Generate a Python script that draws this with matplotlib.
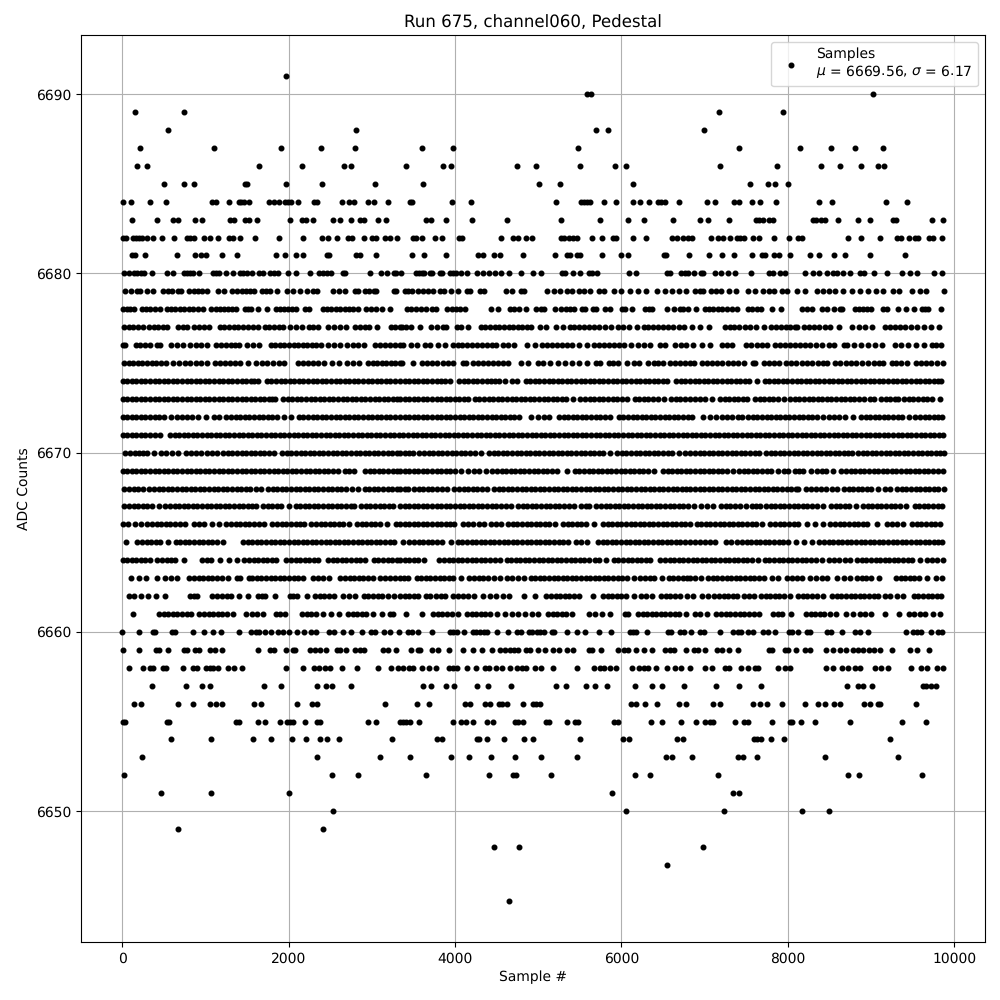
"""
plot.py
-------
Pedestal samples for one ADC channel. Sample numbers are read off the picture, row by row.
"""

import matplotlib
matplotlib.use("Agg")
import matplotlib.pyplot as plt

plt.rcParams["text.hinting"] = "none"

# sample numbers at each ADC level
s6691 = [1966]
s6690 = [5584, 5632, 9020]
s6689 = [154, 742, 7172, 7940]
s6688 = [550, 2806, 5692, 5836, 6992]
s6687 = [214, 1102, 1906, 2386, 2794, 3604, 3976, 5476, 7412, 8144, 8516, 8804, 9140]
s6686 = [178, 298, 1642, 2158, 2662, 2750, 3412, 3856, 3952, 4744, 4972, 5500, 5920, 6052, 7184, 7868, 8396, 8624, 8876, 9080, 9152]
s6685 = [502, 742, 862, 1474, 1506, 1966, 2398, 3034, 3616, 5008, 5260, 6136, 7544, 7760, 7844, 8000]
s6684 = [10, 106, 334, 526, 1078, 1126, 1282, 1402, 1434, 1466, 1522, 1762, 1822, 1882, 1954, 1990, 2026, 2110, 2302, 2338, 2638, 2722, 2782, 2950, 3022, 3190,
         3460, 3484, 3964, 4192, 5212, 5512, 5548, 5584, 5620, 5788, 5932, 6136, 6220, 6328, 6436, 6472, 6520, 6688,
         7028, 7124, 7352, 7412, 7568, 7664, 7856, 8372, 8528, 9176, 9428]
s6683 = [118, 418, 610, 670, 874, 958, 1294, 1342, 1474, 1522, 1618, 2014, 2158, 2206, 2290, 2530, 2614, 2746, 2854, 2902, 3070, 3166,
         3652, 3712, 3892, 4204, 4624, 5272, 5740, 6076, 6268, 6616,
         6944, 7040, 7292, 7616, 7652, 7700, 7772, 7820, 8300, 8336, 8396, 8444, 8600, 8840, 8984, 9260, 9296, 9728, 9860]
s6682 = [10, 46, 130, 166, 202, 238, 298, 370, 482, 622, 778, 814, 862, 982, 1054, 1150, 1282, 1330, 1414, 1594, 1882, 2170, 2398, 2470, 2578, 2710, 2758, 2902, 2998, 3046, 3154, 3214, 3298,
         3496, 3532, 3604, 3760, 3844, 4048, 4084, 4552, 4696, 4756, 4852, 4924, 5272, 5308, 5368, 5416, 5464, 5644, 5764, 5896, 5932, 6136, 6292, 6604, 6664, 6736, 6796,
         6848, 7076, 7160, 7220, 7304, 7388, 7424, 7472, 7580, 7652, 7832, 8012, 8120, 8168, 8720, 8876, 9104, 9308, 9356, 9452, 9524, 9560, 9692, 9740, 9848]
s6681 = [118, 150, 274, 658, 874, 946, 1006, 1198, 1378, 1846, 1954, 2086, 2170, 2458, 2482, 2806, 2854, 3046,
         3484, 3628, 3892, 4276, 4336, 4468, 4540, 4816, 5200, 5344, 5380, 5464, 5500, 5764, 5992, 6076, 6508, 6532, 6808,
         7052, 7208, 7352, 7568, 7688, 7724, 7832, 7892, 8024, 8264, 8372, 8552, 8684, 8984, 9404]
s6680 = [22, 82, 142, 178, 226, 262, 358, 538, 610, 742, 778, 814, 850, 922, 1090, 1126, 1162, 1246, 1330, 1414, 1450, 1498, 1558, 1642, 1690, 1774, 1822, 1870, 1990, 2086, 2254, 2362, 2410, 2458, 2506, 2650, 2674, 2974, 3106, 3178, 3262, 3286,
         3352, 3532, 3568, 3604, 3628, 3700, 3724, 3820, 3844, 3940, 3976, 4012, 4072, 4144, 4264, 4336, 4408, 4480, 4552, 4648, 4792, 4936, 5032, 5284, 5320, 5416, 5500, 5608, 5644, 5704, 6088, 6172, 6544, 6580, 6712, 6760, 6796,
         6872, 6956, 6980, 7124, 7196, 7280, 7364, 7556, 7772, 7820, 7904, 7964, 8204, 8300, 8372, 8468, 8540, 8588, 8660, 8744, 8864, 8912, 9032, 9188, 9368, 9464, 9548, 9752, 9848]
s6679 = [34, 106, 178, 214, 298, 370, 490, 550, 598, 670, 706, 802, 862, 910, 958, 1018, 1150, 1222, 1318, 1378, 1438, 1486, 1534, 1582, 1678, 1726, 1774, 1858, 1978, 2050, 2134, 2218, 2290, 2338, 2530, 2602, 2674, 2794, 2830, 2914, 2962, 3022, 3046, 3262, 3286,
         3400, 3436, 3484, 3556, 3616, 3676, 3736, 3820, 3868, 3952, 4036, 4144, 4180, 4300, 4348, 4612, 4684, 4792, 4828, 5104, 5188, 5260, 5344, 5404, 5488, 5548, 5620, 5728, 5788, 5908, 5992, 6100, 6196, 6292, 6424, 6520, 6604, 6688, 6772,
         6884, 6944, 6980, 7076, 7136, 7196, 7292, 7376, 7520, 7604, 7700, 7772, 7832, 7928, 7988, 8108, 8204, 8348, 8420, 8492, 8564, 8660, 8768, 8864, 8960, 9056, 9140, 9260, 9332, 9488, 9584, 9656, 9872]
s6678 = [14, 60, 100, 142, 234, 290, 340, 395, 450, 534, 590, 640, 690, 745, 800, 855, 910, 970, 1074, 1125, 1175, 1225, 1275, 1325, 1370, 1474, 1510, 1550, 1630, 1738, 1846, 1895, 1945, 1995, 2045, 2094, 2194, 2242, 2414, 2465, 2515, 2570, 2620, 2675, 2725, 2780, 2830, 2926, 2990, 3054, 3118, 3214,
         3428, 3475, 3530, 3590, 3648, 3724, 3772, 3908, 3960, 4010, 4065, 4116, 4436, 4516, 4660, 4710, 4764, 4852, 4980, 5030, 5076, 5208, 5280, 5330, 5380, 5428, 5528, 5568, 5660, 5696, 5804, 5860, 6008, 6048, 6124, 6288, 6330, 6364, 6544, 6628, 6708, 6740, 6796,
         6900, 7004, 7055, 7105, 7160, 7215, 7270, 7330, 7388, 7524, 7575, 7625, 7676, 7812, 7920, 8172, 8230, 8288, 8412, 8476, 8560, 8632, 8656, 8804, 8855, 8905, 8950, 8996, 9140, 9188, 9320, 9420, 9512, 9612, 9650, 9688, 9840]
s6677 = [26, 80, 135, 190, 250, 326, 380, 435, 490, 542, 674, 730, 782, 866, 925, 985, 1042, 1174, 1230, 1285, 1340, 1395, 1450, 1510, 1570, 1630, 1714, 1770, 1825, 1880, 1930, 2014, 2085, 2158, 2246, 2300, 2358, 2474, 2550, 2614, 2690, 2802, 2860, 2915, 2970, 3062, 3226, 3285, 3340,
         3360, 3410, 3470, 3580, 3712, 3780, 3856, 3896, 4020, 4068, 4156, 4308, 4365, 4420, 4480, 4535, 4590, 4645, 4700, 4755, 4810, 4860, 4908, 5020, 5096, 5212, 5296, 5380, 5435, 5490, 5550, 5610, 5670, 5728, 5800, 5880, 5956, 6020, 6088, 6188, 6268, 6325, 6385, 6445, 6505, 6565, 6625, 6690, 6756,
         6852, 6948, 7052, 7244, 7300, 7355, 7410, 7480, 7540, 7620, 7716, 7804, 7860, 7920, 7975, 8030, 8085, 8116, 8200, 8260, 8320, 8380, 8445, 8508, 8620, 8772, 8850, 8928, 9008, 9164, 9225, 9285, 9345, 9405, 9480, 9548, 9640, 9720, 9812]
s6676 = [6, 38, 162, 220, 275, 330, 414, 450, 582, 655, 730, 822, 885, 950, 1018, 1134, 1190, 1250, 1310, 1355, 1402, 1502, 1575, 1650, 1786, 1840, 1895, 1950, 2005, 2060, 2115, 2170, 2225, 2280, 2335, 2390, 2474, 2545, 2618, 2706, 2770, 2835, 2902, 3042, 3100, 3160, 3220, 3280, 3340,
         3376, 3472, 3544, 3636, 3700, 3796, 3876, 3980, 4035, 4090, 4145, 4200, 4260, 4320, 4380, 4440, 4496, 4572, 4636, 4708, 4868, 4968, 5052, 5110, 5165, 5225, 5285, 5345, 5404, 5492, 5584, 5672, 5730, 5790, 5850, 5910, 5975, 6036, 6120, 6195, 6270, 6344, 6468, 6524, 6640, 6712, 6776,
         6860, 6972, 7060, 7212, 7270, 7328, 7492, 7560, 7625, 7690, 7756, 7852, 7910, 7970, 8030, 8090, 8150, 8210, 8268, 8344, 8415, 8490, 8560, 8680, 8712, 8792, 8875, 8960, 9048, 9128, 9292, 9356, 9444, 9540, 9636, 9732, 9785, 9840]
s6675 = [26, 80, 135, 190, 245, 300, 355, 410, 465, 522, 614, 680, 750, 815, 885, 950, 1022, 1114, 1175, 1235, 1295, 1355, 1420, 1510, 1614, 1680, 1745, 1810, 1880, 1950, 2114, 2175, 2235, 2300, 2360, 2422, 2522, 2610, 2702, 2775, 2850, 2954, 3010, 3065, 3120, 3175, 3230, 3285, 3340,
         3360, 3496, 3600, 3660, 3725, 3790, 3855, 3915, 3976, 4092, 4128, 4220, 4280, 4340, 4400, 4460, 4520, 4576, 4640, 4788, 4876, 5000, 5056, 5148, 5236, 5320, 5408, 5495, 5584, 5700, 5748, 5852, 5905, 5956, 6068, 6148, 6208, 6316, 6392, 6445, 6496, 6588, 6650, 6710, 6770, 6828,
         6868, 6972, 7030, 7090, 7150, 7215, 7280, 7345, 7405, 7468, 7580, 7600, 7712, 7775, 7840, 7900, 7980, 8040, 8100, 8165, 8230, 8295, 8360, 8420, 8476, 8564, 8630, 8695, 8760, 8825, 8888, 8960, 9032, 9090, 9148, 9252, 9305, 9356, 9436, 9540, 9600, 9660, 9725, 9790, 9860]
s6674 = [6, 60, 115, 170, 225, 280, 335, 390, 445, 500, 555, 610, 665, 720, 775, 830, 885, 940, 995, 1050, 1105, 1160, 1215, 1270, 1325, 1380, 1435, 1490, 1545, 1590, 1638, 1742, 1795, 1850, 1905, 1960, 2015, 2070, 2125, 2180, 2235, 2290, 2345, 2400, 2455, 2510, 2565, 2620, 2675, 2730, 2785, 2840, 2895, 2950, 3005, 3060, 3115, 3170, 3225, 3280, 3340,
         3395, 3450, 3505, 3560, 3615, 3670, 3725, 3780, 3835, 3885, 3940, 4052, 4105, 4160, 4215, 4270, 4325, 4380, 4435, 4480, 4524, 4596, 4680, 4744, 4852, 4905, 4960, 5015, 5070, 5125, 5180, 5235, 5290, 5345, 5400, 5455, 5510, 5565, 5620, 5675, 5730, 5785, 5840, 5895, 5950, 6005, 6060, 6115, 6170, 6225, 6280, 6335, 6390, 6445, 6500, 6548, 6660, 6715, 6770, 6828,
         6880, 6935, 6990, 7045, 7100, 7155, 7210, 7265, 7320, 7375, 7430, 7480, 7528, 7624, 7720, 7775, 7830, 7885, 7940, 7995, 8050, 8105, 8160, 8215, 8270, 8325, 8380, 8435, 8490, 8545, 8600, 8655, 8710, 8765, 8820, 8875, 8930, 8985, 9040, 9095, 9150, 9205, 9260, 9315, 9370, 9425, 9480, 9535, 9590, 9645, 9700, 9755, 9800, 9836]
s6673 = [6, 60, 115, 170, 225, 280, 335, 390, 445, 500, 555, 610, 665, 720, 775, 830, 885, 940, 995, 1050, 1105, 1160, 1215, 1270, 1325, 1380, 1435, 1490, 1545, 1600, 1655, 1710, 1765, 1805, 1842, 1934, 1990, 2045, 2100, 2155, 2210, 2265, 2320, 2375, 2430, 2485, 2540, 2595, 2650, 2705, 2760, 2815, 2870, 2925, 2980, 3035, 3090, 3145, 3200, 3255, 3300, 3340,
         3395, 3450, 3505, 3560, 3615, 3670, 3725, 3780, 3835, 3890, 3945, 4000, 4050, 4105, 4156, 4240, 4295, 4350, 4405, 4460, 4515, 4570, 4625, 4680, 4735, 4790, 4845, 4900, 4955, 5010, 5065, 5120, 5175, 5230, 5285, 5340, 5416, 5508, 5565, 5620, 5675, 5730, 5785, 5840, 5895, 5950, 6005, 6068, 6160, 6215, 6270, 6325, 6380, 6435, 6516, 6600, 6655, 6710, 6765, 6828,
         6885, 6940, 7000, 7092, 7184, 7240, 7295, 7350, 7405, 7460, 7508, 7604, 7660, 7715, 7770, 7825, 7880, 7956, 8032, 8085, 8140, 8195, 8250, 8305, 8360, 8415, 8470, 8525, 8580, 8635, 8690, 8745, 8800, 8855, 8910, 8988, 9040, 9120, 9175, 9230, 9285, 9320, 9400, 9455, 9510, 9565, 9620, 9675, 9728, 9832]
s6672 = [6, 60, 115, 170, 225, 280, 335, 390, 445, 500, 582, 662, 720, 780, 845, 910, 1014, 1106, 1170, 1254, 1310, 1365, 1420, 1475, 1530, 1585, 1640, 1695, 1750, 1805, 1860, 1942, 2026, 2126, 2180, 2235, 2290, 2345, 2400, 2455, 2510, 2565, 2620, 2675, 2730, 2785, 2840, 2895, 2950, 3005, 3060, 3115, 3170, 3225, 3280, 3340,
         3395, 3450, 3505, 3560, 3615, 3670, 3725, 3780, 3835, 3890, 3945, 4000, 4055, 4110, 4165, 4220, 4275, 4330, 4385, 4440, 4495, 4550, 4605, 4660, 4715, 4764, 4912, 5004, 5070, 5136, 5252, 5305, 5360, 5415, 5470, 5525, 5580, 5635, 5690, 5745, 5800, 5868, 5972, 6025, 6080, 6135, 6190, 6245, 6300, 6355, 6410, 6465, 6520, 6575, 6630, 6685, 6740, 6795, 6848,
         6984, 7060, 7136, 7212, 7270, 7328, 7404, 7448, 7524, 7580, 7635, 7690, 7745, 7800, 7855, 7910, 7965, 8020, 8075, 8130, 8185, 8240, 8295, 8356, 8424, 8490, 8555, 8620, 8688, 8780, 8880, 8935, 8990, 9045, 9100, 9155, 9210, 9265, 9320, 9375, 9456, 9532, 9590, 9645, 9700, 9755, 9805, 9848]
s6671 = [6, 60, 115, 170, 225, 280, 335, 390, 458, 574, 630, 685, 740, 795, 850, 905, 960, 1015, 1070, 1125, 1180, 1235, 1290, 1345, 1400, 1455, 1510, 1565, 1620, 1675, 1730, 1785, 1840, 1895, 1950, 2005, 2060, 2115, 2170, 2225, 2280, 2335, 2390, 2445, 2500, 2555, 2610, 2665, 2720, 2775, 2830, 2885, 2940, 2995, 3050, 3105, 3160, 3215, 3270, 3325,
         3380, 3435, 3490, 3545, 3600, 3655, 3710, 3765, 3820, 3875, 3930, 3985, 4040, 4095, 4150, 4205, 4260, 4315, 4370, 4425, 4480, 4535, 4590, 4645, 4700, 4755, 4810, 4865, 4920, 4975, 5030, 5085, 5140, 5195, 5250, 5305, 5360, 5415, 5470, 5525, 5580, 5635, 5690, 5745, 5800, 5855, 5910, 5965, 6020, 6075, 6130, 6185, 6240, 6295, 6350, 6405, 6460, 6515, 6570, 6625, 6680, 6735, 6790,
         6845, 6900, 6955, 7010, 7065, 7120, 7175, 7230, 7285, 7340, 7395, 7450, 7505, 7560, 7615, 7670, 7725, 7780, 7835, 7890, 7945, 8000, 8055, 8110, 8165, 8220, 8275, 8330, 8385, 8440, 8495, 8550, 8605, 8660, 8715, 8770, 8825, 8880, 8935, 8990, 9045, 9100, 9155, 9210, 9265, 9320, 9375, 9430, 9485, 9540, 9595, 9650, 9705, 9760, 9815, 9862]
s6670 = [38, 95, 150, 205, 255, 302, 382, 462, 530, 600, 670, 766, 825, 885, 950, 1015, 1080, 1138, 1214, 1270, 1325, 1380, 1435, 1490, 1545, 1600, 1655, 1710, 1770, 1830, 1922, 1980, 2035, 2090, 2145, 2200, 2255, 2310, 2365, 2420, 2475, 2530, 2585, 2640, 2695, 2750, 2805, 2860, 2915, 2970, 3025, 3080, 3135, 3190, 3245, 3300, 3340,
         3395, 3450, 3500, 3572, 3630, 3685, 3740, 3795, 3850, 3905, 3960, 4015, 4070, 4125, 4180, 4235, 4316, 4412, 4465, 4520, 4575, 4630, 4685, 4740, 4795, 4850, 4905, 4960, 5015, 5070, 5125, 5180, 5235, 5290, 5345, 5400, 5455, 5510, 5565, 5620, 5675, 5730, 5785, 5868, 5948, 6005, 6060, 6115, 6170, 6225, 6280, 6335, 6390, 6445, 6500, 6555, 6610, 6688, 6768, 6828,
         6885, 6940, 6995, 7050, 7105, 7160, 7215, 7270, 7325, 7380, 7435, 7490, 7545, 7600, 7648, 7740, 7795, 7850, 7905, 7960, 8015, 8070, 8125, 8180, 8235, 8290, 8345, 8400, 8455, 8510, 8565, 8620, 8675, 8725, 8768, 8844, 8900, 8955, 9010, 9065, 9120, 9175, 9230, 9285, 9340, 9395, 9450, 9505, 9560, 9615, 9670, 9725, 9780, 9830, 9876]
s6669 = [6, 60, 115, 170, 225, 280, 335, 390, 445, 500, 555, 610, 665, 720, 775, 830, 885, 940, 995, 1050, 1105, 1160, 1215, 1270, 1325, 1380, 1435, 1490, 1545, 1600, 1655, 1710, 1765, 1820, 1875, 1930, 1985, 2040, 2095, 2150, 2205, 2260, 2315, 2370, 2425, 2480, 2535, 2590, 2674, 2730, 2782, 2922, 2975, 3030, 3085, 3140, 3195, 3250, 3300, 3340,
         3395, 3450, 3505, 3560, 3615, 3670, 3725, 3780, 3835, 3890, 3945, 4000, 4076, 4160, 4225, 4288, 4368, 4448, 4505, 4560, 4615, 4670, 4725, 4780, 4835, 4890, 4945, 5000, 5055, 5110, 5165, 5224, 5352, 5440, 5495, 5550, 5605, 5660, 5715, 5770, 5825, 5880, 5935, 5990, 6045, 6100, 6155, 6210, 6265, 6320, 6388, 6500, 6555, 6610, 6665, 6720, 6775, 6828,
         6885, 6940, 6995, 7050, 7105, 7160, 7215, 7270, 7336, 7412, 7470, 7525, 7580, 7635, 7690, 7745, 7800, 7880, 7960, 8008, 8084, 8135, 8188, 8284, 8345, 8405, 8465, 8548, 8644, 8700, 8755, 8810, 8865, 8920, 8975, 9030, 9085, 9140, 9195, 9250, 9305, 9360, 9415, 9470, 9525, 9580, 9635, 9690, 9745, 9800, 9868]
s6668 = [22, 80, 140, 195, 250, 326, 385, 440, 495, 550, 605, 660, 715, 770, 825, 880, 935, 990, 1045, 1100, 1155, 1210, 1265, 1320, 1375, 1430, 1485, 1540, 1610, 1670, 1754, 1810, 1865, 1920, 1975, 2030, 2085, 2140, 2195, 2250, 2305, 2360, 2415, 2470, 2525, 2580, 2635, 2690, 2766, 2830, 2914, 2970, 3025, 3080, 3135, 3190, 3245, 3300, 3340,
         3395, 3440, 3508, 3565, 3620, 3675, 3730, 3785, 3840, 3908, 3992, 4050, 4105, 4160, 4215, 4270, 4330, 4388, 4468, 4525, 4580, 4635, 4690, 4745, 4800, 4855, 4910, 4965, 5020, 5075, 5130, 5185, 5240, 5295, 5350, 5405, 5460, 5515, 5570, 5625, 5680, 5735, 5790, 5845, 5900, 5955, 6010, 6065, 6120, 6175, 6230, 6285, 6340, 6395, 6450, 6505, 6560, 6615, 6670, 6725, 6780, 6828,
         6885, 6940, 6995, 7050, 7105, 7160, 7215, 7270, 7325, 7380, 7435, 7490, 7545, 7600, 7655, 7710, 7765, 7820, 7875, 7930, 7985, 8040, 8095, 8128, 8220, 8280, 8340, 8400, 8460, 8530, 8596, 8672, 8730, 8785, 8840, 8895, 8950, 9005, 9088, 9164, 9228, 9312, 9370, 9425, 9480, 9535, 9590, 9645, 9700, 9755, 9810, 9876]
s6667 = [26, 85, 140, 195, 250, 305, 360, 442, 518, 575, 630, 685, 740, 795, 850, 905, 960, 1015, 1070, 1125, 1180, 1235, 1290, 1345, 1400, 1455, 1510, 1560, 1610, 1694, 1750, 1805, 1860, 1915, 2010, 2086, 2140, 2195, 2250, 2305, 2360, 2415, 2470, 2525, 2580, 2635, 2690, 2745, 2790, 2874, 2930, 2985, 3040, 3095, 3150, 3205, 3260, 3340,
         3395, 3450, 3505, 3560, 3615, 3670, 3725, 3780, 3835, 3890, 3945, 4000, 4055, 4110, 4165, 4220, 4275, 4330, 4385, 4440, 4495, 4550, 4608, 4668, 4760, 4815, 4870, 4925, 4980, 5035, 5090, 5145, 5200, 5255, 5310, 5370, 5436, 5520, 5570, 5616, 5700, 5755, 5810, 5865, 5920, 5975, 6030, 6085, 6140, 6195, 6250, 6305, 6360, 6415, 6470, 6525, 6580, 6635, 6690, 6745, 6800,
         6876, 6960, 7030, 7100, 7200, 7255, 7310, 7365, 7420, 7496, 7572, 7615, 7660, 7740, 7795, 7850, 7905, 7960, 8015, 8070, 8125, 8180, 8235, 8290, 8345, 8428, 8520, 8575, 8630, 8685, 8740, 8816, 8904, 8960, 9015, 9070, 9125, 9180, 9235, 9290, 9345, 9420, 9524, 9580, 9635, 9690, 9745, 9800, 9848]
s6666 = [14, 70, 150, 230, 302, 360, 415, 470, 525, 580, 635, 690, 762, 866, 925, 990, 1086, 1170, 1254, 1310, 1365, 1420, 1475, 1530, 1585, 1640, 1710, 1806, 1865, 1920, 1975, 2030, 2085, 2140, 2190, 2274, 2330, 2385, 2440, 2495, 2550, 2605, 2660, 2730, 2826, 2880, 2935, 2990, 3045, 3100, 3178, 3294, 3340,
         3395, 3450, 3505, 3560, 3615, 3670, 3725, 3780, 3835, 3890, 3940, 3988, 4100, 4160, 4220, 4285, 4348, 4428, 4490, 4548, 4640, 4695, 4750, 4805, 4860, 4915, 4970, 5025, 5080, 5135, 5204, 5300, 5355, 5410, 5465, 5520, 5575, 5676, 5780, 5835, 5890, 5945, 6000, 6055, 6110, 6165, 6220, 6275, 6330, 6385, 6440, 6495, 6550, 6605, 6660, 6715, 6770, 6828,
         6904, 6960, 7015, 7070, 7125, 7180, 7235, 7290, 7345, 7400, 7455, 7510, 7565, 7620, 7688, 7792, 7850, 7905, 7960, 8015, 8070, 8125, 8228, 8332, 8420, 8512, 8570, 8625, 8680, 8735, 8790, 8845, 8900, 8955, 9068, 9192, 9250, 9315, 9380, 9492, 9550, 9605, 9660, 9715, 9770, 9828]
s6665 = [42, 182, 240, 295, 350, 405, 460, 550, 642, 700, 755, 810, 865, 920, 975, 1030, 1085, 1140, 1210, 1454, 1510, 1565, 1620, 1675, 1730, 1785, 1840, 1895, 1950, 2005, 2060, 2115, 2170, 2225, 2280, 2335, 2390, 2445, 2500, 2555, 2610, 2665, 2720, 2775, 2830, 2885, 2940, 2995, 3050, 3105, 3160, 3215, 3270,
         3376, 3452, 3510, 3565, 3620, 3675, 3730, 3785, 3840, 3948, 4032, 4090, 4145, 4200, 4255, 4310, 4365, 4420, 4475, 4530, 4585, 4640, 4695, 4750, 4805, 4860, 4915, 4970, 5025, 5080, 5135, 5190, 5245, 5300, 5356, 5460, 5520, 5584, 5720, 5775, 5830, 5885, 5940, 5995, 6050, 6105, 6160, 6215, 6270, 6325, 6380, 6435, 6490, 6545, 6600, 6655, 6710, 6765, 6828,
         6884, 6950, 7010, 7070, 7128, 7252, 7316, 7392, 7450, 7505, 7560, 7615, 7670, 7725, 7780, 7835, 7890, 7945, 8008, 8100, 8190, 8288, 8380, 8435, 8490, 8545, 8600, 8655, 8710, 8765, 8820, 8875, 8930, 8985, 9040, 9095, 9150, 9205, 9260, 9315, 9370, 9425, 9480, 9535, 9590, 9645, 9700, 9755, 9805, 9856]
s6664 = [6, 60, 115, 170, 225, 280, 338, 422, 480, 535, 590, 630, 738, 962, 1015, 1070, 1182, 1280, 1382, 1466, 1525, 1580, 1635, 1690, 1745, 1800, 1850, 1974, 2030, 2085, 2140, 2195, 2250, 2305, 2358, 2474, 2530, 2585, 2640, 2695, 2750, 2805, 2860, 2918, 3026, 3080, 3135, 3190, 3245, 3300, 3340,
         3395, 3450, 3505, 3560, 3628, 3812, 3870, 3925, 3980, 4035, 4090, 4145, 4200, 4255, 4310, 4365, 4420, 4480, 4536, 4620, 4675, 4730, 4785, 4840, 4895, 4950, 5005, 5060, 5115, 5170, 5225, 5280, 5335, 5390, 5445, 5500, 5555, 5610, 5680, 5736, 5816, 5908, 5965, 6020, 6075, 6130, 6185, 6240, 6290, 6344, 6468, 6525, 6580, 6635, 6690, 6745, 6800,
         6855, 6910, 6965, 7020, 7075, 7130, 7185, 7240, 7295, 7350, 7405, 7460, 7515, 7570, 7640, 7724, 7780, 7835, 7890, 7945, 8000, 8055, 8110, 8165, 8220, 8275, 8340, 8408, 8500, 8560, 8620, 8685, 8748, 8832, 8890, 8945, 9000, 9055, 9110, 9165, 9220, 9275, 9330, 9385, 9440, 9495, 9588, 9672, 9730, 9795, 9860]
s6663 = [106, 206, 282, 422, 514, 585, 658, 806, 865, 920, 975, 1030, 1085, 1140, 1200, 1270, 1386, 1422, 1522, 1562, 1620, 1675, 1730, 1785, 1840, 1895, 1950, 2005, 2060, 2115, 2170, 2294, 2350, 2420, 2490, 2622, 2680, 2735, 2790, 2845, 2900, 2955, 3010, 3102, 3160, 3220, 3280, 3340,
         3390, 3440, 3540, 3595, 3650, 3705, 3760, 3815, 3870, 3925, 3980, 4076, 4172, 4230, 4285, 4340, 4395, 4470, 4536, 4628, 4690, 4760, 4828, 4908, 4965, 5020, 5075, 5130, 5185, 5240, 5295, 5350, 5405, 5460, 5515, 5570, 5625, 5680, 5735, 5790, 5845, 5900, 5955, 6010, 6065, 6148, 6228, 6285, 6340, 6395, 6488, 6568, 6625, 6680, 6735, 6790, 6828,
         6880, 6956, 7044, 7100, 7155, 7210, 7265, 7320, 7375, 7430, 7485, 7540, 7595, 7650, 7716, 7812, 7888, 7992, 8050, 8110, 8168, 8272, 8340, 8405, 8476, 8592, 8670, 8748, 8832, 8890, 8945, 9000, 9100, 9300, 9355, 9410, 9465, 9520, 9575, 9676, 9780, 9848]
s6662 = [86, 142, 230, 314, 410, 514, 822, 860, 902, 1086, 1145, 1200, 1255, 1310, 1410, 1514, 1634, 1680, 1722, 1834, 2014, 2058, 2102, 2222, 2314, 2375, 2430, 2490, 2550, 2654, 2725, 2802, 2902, 2960, 3015, 3070, 3118, 3194, 3265, 3340,
         3395, 3450, 3505, 3560, 3648, 3700, 3770, 3830, 3884, 3972, 4035, 4095, 4156, 4228, 4340, 4420, 4496, 4580, 4644, 4824, 4960, 5100, 5155, 5210, 5265, 5320, 5375, 5430, 5488, 5656, 5780, 5835, 5890, 5945, 6000, 6055, 6148, 6240, 6300, 6364, 6480, 6535, 6590, 6645, 6700, 6784,
         6860, 6972, 7036, 7116, 7175, 7230, 7285, 7340, 7388, 7476, 7535, 7596, 7680, 7735, 7790, 7845, 7900, 7955, 8028, 8124, 8180, 8235, 8290, 8345, 8428, 8532, 8590, 8645, 8700, 8755, 8810, 8865, 8920, 8975, 9030, 9085, 9168, 9228, 9316, 9388, 9512, 9570, 9625, 9680, 9735, 9790, 9836]
s6661 = [126, 446, 500, 555, 610, 665, 720, 775, 830, 926, 985, 1040, 1095, 1150, 1205, 1260, 1330, 1494, 1560, 1625, 1690, 1846, 1900, 1958, 2162, 2220, 2275, 2330, 2410, 2514, 2610, 2714, 2770, 2825, 2880, 2935, 3010, 3122, 3214, 3258,
         3408, 3604, 3740, 3795, 3850, 3905, 3960, 4036, 4140, 4200, 4255, 4310, 4365, 4420, 4504, 4600, 4680, 4756, 4840, 4928, 4996, 5120, 5175, 5230, 5285, 5340, 5404, 5608, 5680, 5764, 5860, 6048, 6084, 6200, 6255, 6310, 6365, 6420, 6475, 6530, 6585, 6640, 6695, 6776,
         6884, 6940, 7028, 7140, 7200, 7255, 7310, 7365, 7420, 7475, 7530, 7590, 7648, 7824, 7880, 7935, 8036, 8220, 8275, 8330, 8385, 8440, 8510, 8580, 8700, 8785, 8868, 8932, 9000, 9172, 9340, 9452, 9520, 9588, 9652, 9740, 9828]
s6660 = [0, 202, 370, 394, 598, 634, 850, 982, 1090, 1186, 1402, 1546, 1606, 1642, 1714, 1786, 1870, 1930, 2002, 2098, 2182, 2266, 2326, 2482, 2542, 2650, 2746, 2878, 2986, 3034, 3142, 3214, 3322,
         3436, 3484, 3556, 3724, 3940, 3976, 4024, 4108, 4216, 4252, 4300, 4348, 4384, 4504, 4636, 4744, 4792, 4888, 4924, 4984, 5020, 5068, 5164, 5188, 5344, 5464, 5560, 5728, 5872, 6100, 6136, 6172, 6304, 6556, 6592, 6700, 6748,
         6836, 6944, 6992, 7184, 7340, 7400, 7436, 7520, 7580, 7700, 7760, 7844, 8012, 8048, 8120, 8228, 8264, 8468, 8516, 8648, 8804, 8864, 8960, 9416, 9500, 9548, 9596, 9716, 9800, 9848]
s6659 = [10, 202, 406, 442, 550, 742, 778, 874, 922, 1054, 1114, 1198, 1630, 1774, 1822, 1966, 2050, 2074, 2254, 2314, 2374, 2446, 2578, 2614, 2686, 2794, 2854, 2902, 3130, 3190, 3286,
         3472, 3556, 3580, 3724, 3796, 3928, 4096, 4216, 4324, 4444, 4540, 4600, 4660, 4708, 4756, 4852, 4900, 4996, 5080, 5176, 5248, 5344, 5416, 5608, 5644, 5752, 5956, 6028, 6076, 6172, 6268, 6364, 6520, 6580, 6628, 6772,
         6872, 6920, 7004, 7148, 7208, 7292, 7400, 7772, 7808, 7964, 8000, 8096, 8204, 8264, 8456, 8540, 8624, 8696, 8780, 8840, 8900, 8972, 9032, 9104, 9248, 9464, 9548, 9692]
s6658 = [82, 250, 334, 370, 490, 526, 730, 850, 898, 1006, 1054, 1090, 1150, 1270, 1342, 1438, 1966, 2170, 2302, 2362, 2434, 2494, 2638, 2818, 3070, 3226, 3310,
         3376, 3448, 3496, 3604, 3688, 3772, 3928, 3976, 4024, 4144, 4252, 4360, 4408, 4492, 4564, 4660, 4744, 4804, 4852, 4960, 5032, 5176, 5464, 5668, 5740, 5788, 5860, 5932, 6124, 6208, 6268, 6316, 6412, 6544, 6640, 6712,
         6824, 7004, 7088, 7244, 7292, 7436, 7520, 7604, 7640, 7880, 7964, 8024, 8456, 8540, 8648, 8720, 8804, 8864, 9044, 9116, 9200, 9476, 9596, 9668, 9788, 9860]
s6657 = [358, 766, 958, 1054, 1702, 1906, 2338, 2446, 2518, 2746, 3616, 3712, 3892, 3988, 4264, 4396, 4672, 5212, 5332, 5572, 5680, 5824, 6160, 6364, 6484, 6748, 7136, 7412, 7676, 8708, 8840, 8900, 9008, 9620, 9656, 9716, 9776]
s6656 = [142, 226, 670, 850, 1054, 1126, 1198, 1582, 1666, 2098, 2278, 2338, 3154, 3544, 3688, 4120, 4180, 4360, 4420, 4528, 4564, 4624, 4816, 4936, 4972, 5020, 6112, 6172, 6280, 6424, 6688, 6776, 7100, 7184, 7580, 7664, 7748, 7928, 8204, 8360, 8444, 8552, 8624, 8912, 8984, 9080, 9104, 9536]
s6655 = [10, 34, 538, 562, 1366, 1402, 1630, 1714, 1894, 1978, 2014, 2050, 2194, 2338, 2374, 2950, 3046, 3334, 3376, 3412, 3460, 3568, 3976, 4072, 4132, 4216, 4384, 4456, 4720, 4756, 4816, 5092, 5128, 5344, 5440, 5476, 5908, 5956, 6352, 6484, 6712, 6896, 7004, 7064, 7100, 7364, 7472, 7520, 7808, 8024, 8048, 8156, 8324, 8744, 9368, 9656]
s6654 = [586, 1066, 1570, 1786, 2038, 2206, 2374, 2458, 2602, 3238, 3784, 3844, 4264, 4288, 4384, 4588, 4828, 4936, 5500, 6016, 6088, 6664, 6736, 7592, 7628, 7676, 7796, 7952, 9224]
s6653 = [238, 2338, 3094, 3460, 3952, 4168, 4432, 4720, 5032, 5464, 6532, 6604, 6848, 7400, 7460, 7628, 8444, 9320]
s6652 = [22, 2518, 2830, 3652, 4408, 4696, 4736, 5152, 6160, 6340, 7160, 8720, 8852, 9608]
s6651 = [466, 1066, 2002, 5884, 7340, 7412]
s6650 = [2530, 6052, 7232, 8168, 8492]
s6649 = [670, 2410]
s6648 = [4468, 4768, 6980]
s6647 = [6544]
s6645 = [4648]

levels = {
    6691: s6691, 6690: s6690, 6689: s6689, 6688: s6688, 6687: s6687, 6686: s6686, 6685: s6685,
    6684: s6684, 6683: s6683, 6682: s6682, 6681: s6681, 6680: s6680, 6679: s6679, 6678: s6678,
    6677: s6677, 6676: s6676, 6675: s6675, 6674: s6674, 6673: s6673, 6672: s6672, 6671: s6671,
    6670: s6670, 6669: s6669, 6668: s6668, 6667: s6667, 6666: s6666, 6665: s6665, 6664: s6664,
    6663: s6663, 6662: s6662, 6661: s6661, 6660: s6660, 6659: s6659, 6658: s6658, 6657: s6657,
    6656: s6656, 6655: s6655, 6654: s6654, 6653: s6653, 6652: s6652, 6651: s6651, 6650: s6650,
    6649: s6649, 6648: s6648, 6647: s6647, 6645: s6645,
}

samples = []
counts = []
for level, xs in levels.items():
    samples.extend(xs)
    counts.extend([level] * len(xs))

fig, ax = plt.subplots(figsize=(10, 10))
ax.plot(samples, counts, "k.", markersize=6.6, label="Samples\n$\\mu$ = 6669.56, $\\sigma$ = 6.17")
ax.set_xlabel("Sample #")
ax.set_ylabel("ADC Counts")
ax.set_title("Run 675, channel060, Pedestal")
ax.grid(True)
ax.legend(loc="upper right")
fig.subplots_adjust(left=0.081, right=0.985, top=0.965, bottom=0.058)
fig.savefig("out.png", dpi=100)
